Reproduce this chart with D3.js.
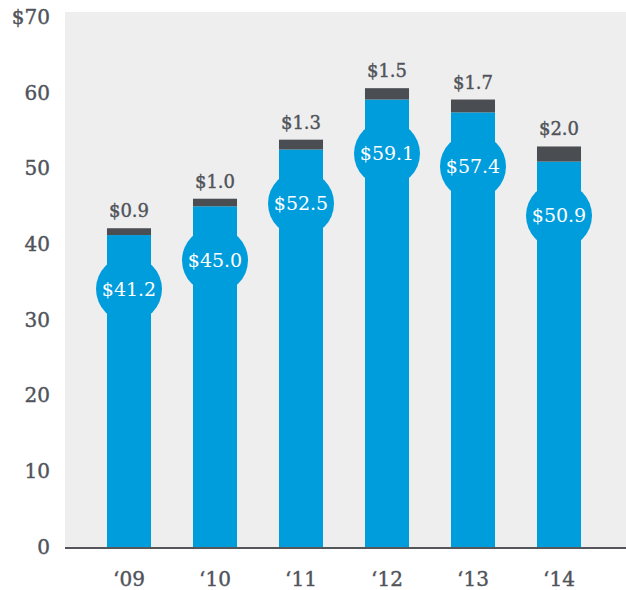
<!DOCTYPE html>
<html>
<head>
<meta charset="utf-8">
<script src="https://cdn.jsdelivr.net/npm/d3@7"></script>
<style>
  body { margin: 0; background: #fff; }
  text { font-family: "DejaVu Serif", serif; }
</style>
</head>
<body>
<script>
let years = ['09', '10', '11', '12', '13', '14']
let mainValues = [41.2, 45.0, 52.5, 59.1, 57.4, 50.9]
let capValues = [0.9, 1.0, 1.3, 1.5, 1.7, 2.0]
let yTicks = [0, 10, 20, 30, 40, 50, 60, 70]

let width = 626, height = 590
let plot = { left: 65, right: 626, top: 12, bottom: 547 }
let blue = '#009ddc', dark = '#4a4d52', labelColor = '#50535a'

let svg = d3.select('body').append('svg')
  .attr('width', width)
  .attr('height', height)

let x = d3.scaleBand()
  .domain(years)
  .range([86, 602])
  .paddingInner(0.488)
  .paddingOuter(0.244)

let y = d3.scaleLinear()
  .domain([0, 70])
  .range([plot.bottom, 17])

// grey panel
svg.append('rect')
  .attr('x', plot.left)
  .attr('y', plot.top)
  .attr('width', plot.right - plot.left)
  .attr('height', plot.bottom - plot.top)
  .attr('fill', '#eeeeee')

let data = years.map((yr, i) => ({ yr, main: mainValues[i], cap: capValues[i] }))

// blue part
svg.selectAll('.bar').data(data).enter().append('rect')
  .attr('class', 'bar')
  .attr('x', d => x(d.yr))
  .attr('y', d => y(d.main))
  .attr('width', x.bandwidth())
  .attr('height', d => y(0) - y(d.main))
  .attr('fill', blue)

// dark cap on top
svg.selectAll('.cap').data(data).enter().append('rect')
  .attr('class', 'cap')
  .attr('x', d => x(d.yr))
  .attr('y', d => y(d.main + d.cap))
  .attr('width', x.bandwidth())
  .attr('height', d => y(d.main) - y(d.main + d.cap))
  .attr('fill', dark)

// cap labels
svg.selectAll('.capLabel').data(data).enter().append('text')
  .attr('x', d => x(d.yr) + x.bandwidth() / 2)
  .attr('y', d => y(d.main + d.cap) - 11)
  .attr('text-anchor', 'middle')
  .attr('font-size', 18)
  .attr('fill', labelColor)
  .attr('stroke', labelColor)
  .attr('stroke-width', 0.4)
  .text(d => '$' + d.cap.toFixed(1))

// circles with main value
let bubbles = svg.selectAll('.bubble').data(data).enter().append('g')
  .attr('transform', d => `translate(${x(d.yr) + x.bandwidth() / 2},${y(d.main) + 54})`)

bubbles.append('circle')
  .attr('r', 33)
  .attr('fill', blue)

bubbles.append('text')
  .attr('text-anchor', 'middle')
  .attr('dy', '0.36em')
  .attr('font-size', 19)
  .attr('fill', '#fff')
  .text(d => '$' + d.main.toFixed(1))

// baseline
svg.append('line')
  .attr('x1', plot.left)
  .attr('x2', plot.right)
  .attr('y1', y(0) + 1)
  .attr('y2', y(0) + 1)
  .attr('stroke', '#555659')
  .attr('stroke-width', 2)

// y axis
let yAxis = svg.append('g')
  .attr('transform', 'translate(50,0)')
  .call(d3.axisLeft(y).tickValues(yTicks).tickSize(0).tickPadding(0)
    .tickFormat(d => d === 70 ? '$70' : d))
yAxis.select('.domain').remove()
yAxis.selectAll('text')
  .attr('font-family', '"DejaVu Serif", serif')
  .attr('font-size', 20)
  .attr('fill', labelColor)
  .attr('stroke', labelColor)
  .attr('stroke-width', 0.4)

// x axis
let xAxis = svg.append('g')
  .attr('transform', `translate(0,${y(0)})`)
  .call(d3.axisBottom(x).tickSize(0).tickPadding(25).tickFormat(d => '\u2018' + d))
xAxis.select('.domain').remove()
xAxis.selectAll('text')
  .attr('font-family', '"DejaVu Serif", serif')
  .attr('font-size', 20)
  .attr('fill', labelColor)
  .attr('stroke', labelColor)
  .attr('stroke-width', 0.4)
</script>
</body>
</html>
